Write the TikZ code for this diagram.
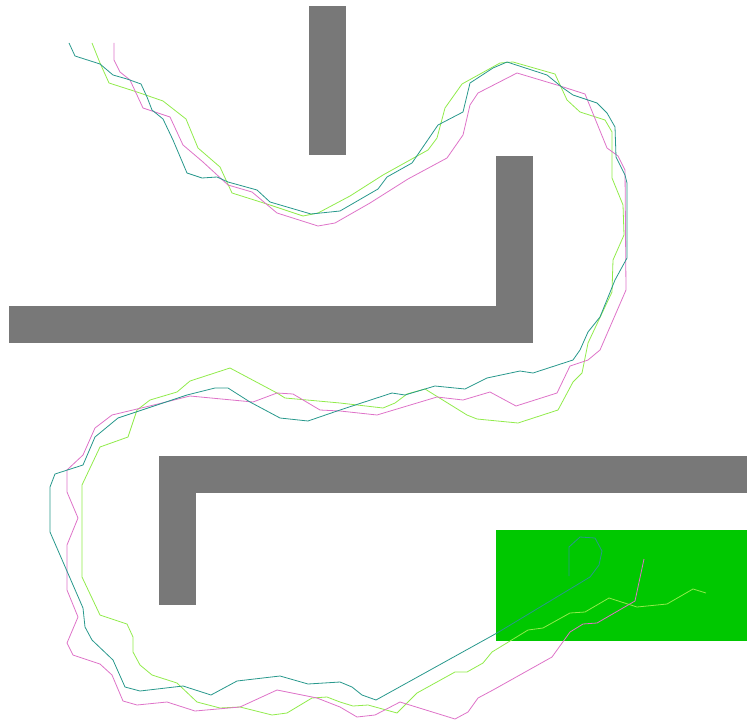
\documentclass[tikz,border=0pt]{standalone}
\usepackage{tikz}
\usepackage{xcolor}

\definecolor{obstgray}{RGB}{120,120,120}
\definecolor{goalgreen}{RGB}{0,200,0}
\definecolor{pathteal}{RGB}{40,152,140}
\definecolor{pathpink}{RGB}{222,115,200}
\definecolor{pathlime}{RGB}{145,235,75}

\begin{document}
\begin{tikzpicture}[
    x=1bp, y=-1bp,
    obstacle/.style={
        fill=obstgray,
        draw=none
    },
    goal/.style={
        fill=goalgreen,
        draw=none
    },
    route/.style={
        line width=0.8bp,
        line join=round
    }
]

\useasboundingbox (0,0) rectangle (747,722);

% Obstaculos
\fill[obstacle] (309,6) rectangle (346,155);
\fill[obstacle] (496,156) rectangle (533,306);
\fill[obstacle] (9,306) rectangle (533,343);
\fill[obstacle] (159,456) rectangle (747,493);
\fill[obstacle] (159,493) rectangle (196,605);

% Zona objetivo
\fill[goal] (496,530) rectangle (747,641);

% Trayectoria verde claro
\draw[route, pathlime] (92,43) -- (100,63) -- (109,83) -- (137,92) -- (163,101)
    -- (186,119) -- (198,148) -- (220,167) -- (232,193) -- (270,205)
    -- (303,216) -- (318,213) -- (350,196) -- (383,175) -- (428,150)
    -- (437,138) -- (445,108) -- (462,84) -- (500,63) -- (513,62)
    -- (555,74) -- (567,100) -- (580,112) -- (605,120) -- (612,132)
    -- (612,178) -- (623,205) -- (624,235) -- (613,260) -- (612,292)
    -- (588,343) -- (582,373) -- (573,382) -- (558,410) -- (518,423)
    -- (477,419) -- (467,415) -- (425,389) -- (407,394) -- (395,403)
    -- (383,408) -- (340,403) -- (285,398) -- (277,393) -- (230,368)
    -- (190,381) -- (177,392) -- (150,400) -- (137,410) -- (128,437)
    -- (100,447) -- (82,485) -- (82,577) -- (100,615) -- (127,624)
    -- (133,637) -- (133,652) -- (140,665) -- (152,675) -- (177,683)
    -- (197,702) -- (220,708) -- (240,707) -- (272,715) -- (287,713)
    -- (312,698) -- (327,697) -- (340,702) -- (353,706) -- (368,705)
    -- (397,713) -- (417,693) -- (455,672) -- (467,672) -- (483,663)
    -- (492,652) -- (528,630) -- (543,628) -- (570,613) -- (585,612)
    -- (609,598) -- (637,607) -- (667,604) -- (693,589) -- (706,593);

% Trayectoria rosa
\draw[route, pathpink] (114,43) -- (114,60) -- (120,72) -- (130,80) -- (143,108)
    -- (155,112) -- (170,117) -- (183,145) -- (203,162) -- (228,185)
    -- (252,192) -- (277,213) -- (318,226) -- (335,223) -- (370,203)
    -- (408,179) -- (447,158) -- (463,135) -- (470,105) -- (478,93)
    -- (517,73) -- (557,85) -- (585,94) -- (607,148) -- (618,156)
    -- (625,170) -- (626,290) -- (600,350) -- (588,360) -- (570,366)
    -- (557,393) -- (516,406) -- (490,392) -- (463,400) -- (437,397)
    -- (377,415) -- (340,411) -- (320,410) -- (293,394) -- (277,393)
    -- (253,402) -- (190,396) -- (158,404) -- (112,415) -- (95,428)
    -- (83,455) -- (67,470) -- (67,492) -- (78,518) -- (67,545)
    -- (67,590) -- (78,617) -- (67,643) -- (73,655) -- (100,664)
    -- (112,675) -- (123,701) -- (137,705) -- (167,702) -- (195,711)
    -- (240,707) -- (277,690) -- (317,698) -- (340,707) -- (357,717)
    -- (375,715) -- (400,702) -- (455,719) -- (468,712) -- (478,698)
    -- (493,690) -- (552,657) -- (570,632) -- (583,624) -- (597,623)
    -- (635,601) -- (644,559);

% Trayectoria verde azulado
\draw[route, pathteal] (69,43) -- (75,56) -- (100,64) -- (113,75) -- (127,79)
    -- (141,84) -- (147,97) -- (152,110) -- (163,119) -- (173,140)
    -- (187,173) -- (202,178) -- (217,177) -- (228,182) -- (257,190)
    -- (270,202) -- (311,214) -- (340,211) -- (378,189) -- (387,177)
    -- (412,163) -- (438,125) -- (463,112) -- (470,83) -- (493,68)
    -- (507,62) -- (547,75) -- (563,88) -- (573,95) -- (597,103)
    -- (607,113) -- (615,127) -- (616,157) -- (625,175) -- (627,183)
    -- (627,258) -- (615,280) -- (600,317) -- (588,332) -- (580,350)
    -- (573,360) -- (533,373) -- (520,371) -- (487,378) -- (465,389)
    -- (435,386) -- (405,395) -- (392,393) -- (340,410) -- (308,421)
    -- (280,418) -- (250,402) -- (228,388) -- (215,388) -- (187,395)
    -- (118,418) -- (95,437) -- (83,465) -- (55,474) -- (50,487)
    -- (50,532) -- (83,608) -- (85,627) -- (92,640) -- (113,660)
    -- (125,687) -- (140,691) -- (183,686) -- (211,695) -- (237,681)
    -- (280,676) -- (308,684) -- (340,682) -- (352,687) -- (362,695)
    -- (376,700) -- (497,633) -- (590,577) -- (599,565) -- (602,551)
    -- (595,538) -- (580,537) -- (569,547) -- (569,576);

\end{tikzpicture}
\end{document}
